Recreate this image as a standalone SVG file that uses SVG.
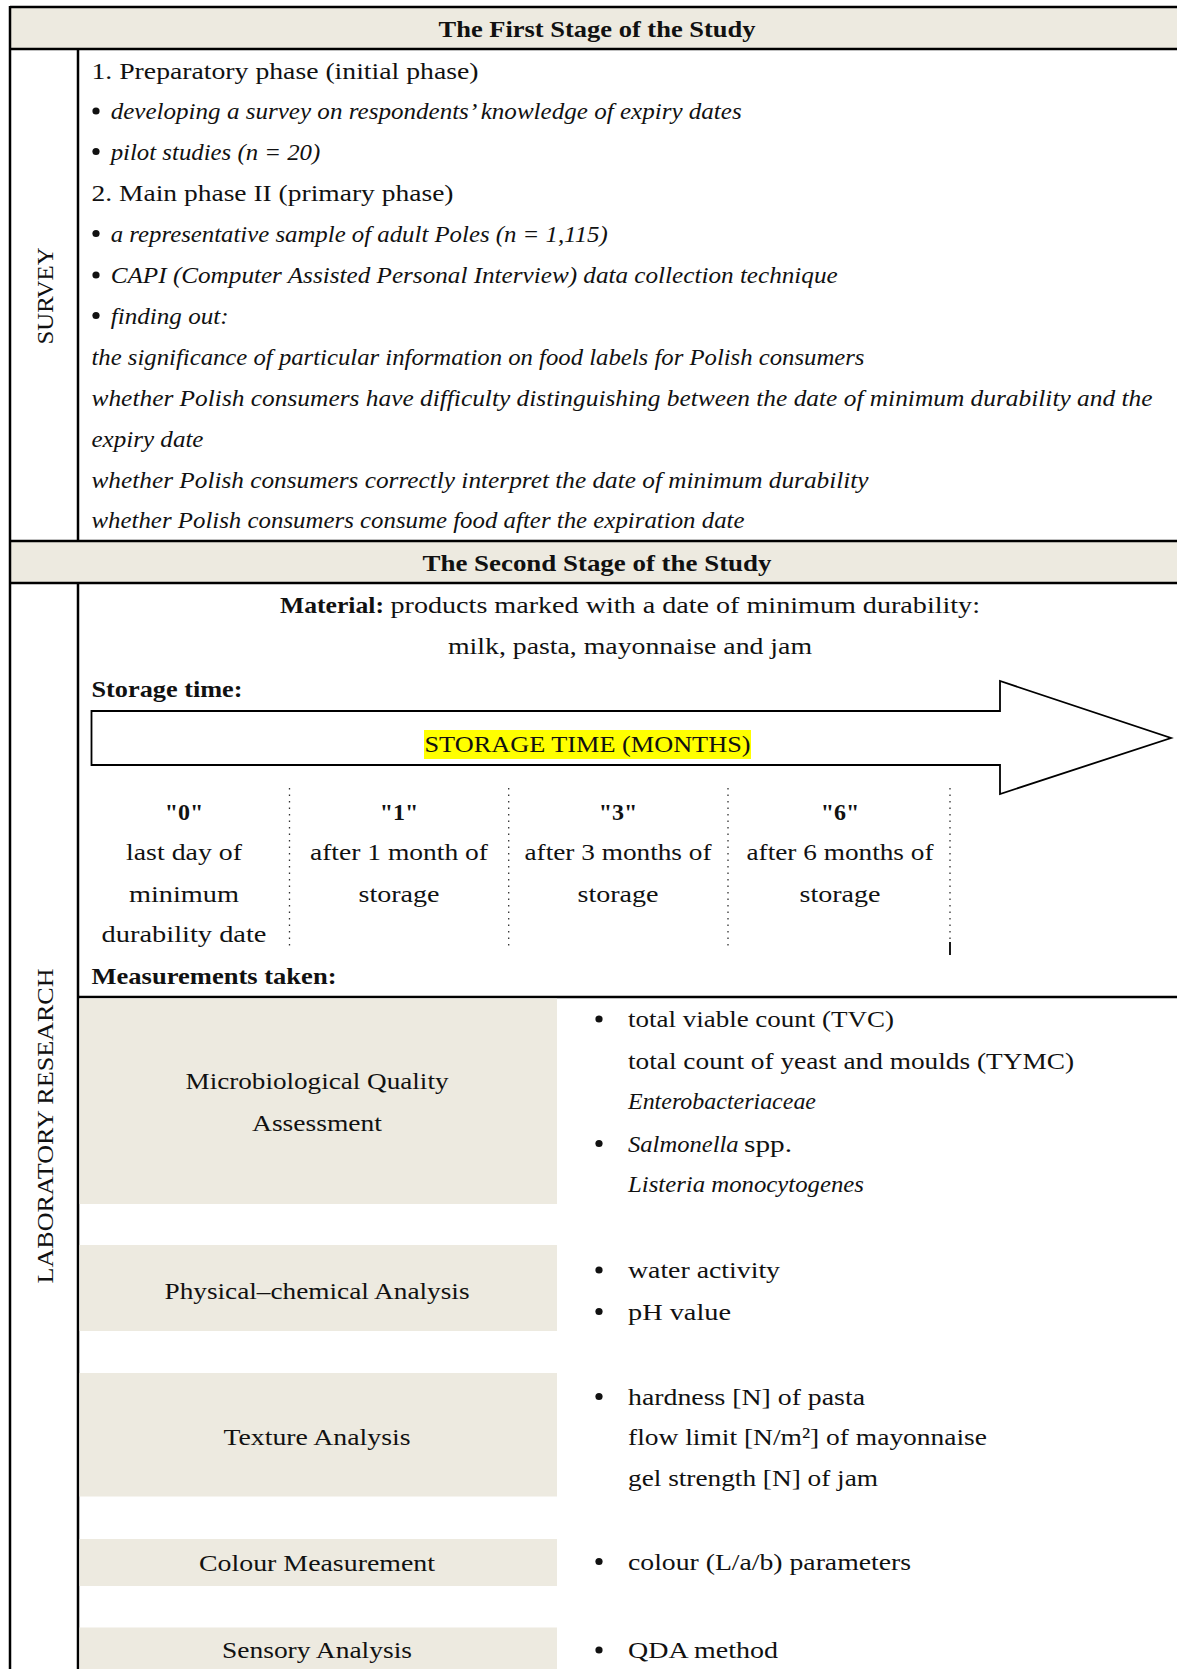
<svg xmlns="http://www.w3.org/2000/svg" width="1177" height="1669" viewBox="0 0 1177 1669">
<style>
text{font-family:"Liberation Serif","Times New Roman",serif;font-size:24px;fill:#111}
.b{font-weight:bold}
.i{font-style:italic}
.m{text-anchor:middle}
.hdr{fill:#EDEAE0}
.box{fill:#EDEAE0}
.ln{stroke:#000;stroke-width:2.5;fill:none}
.dot{stroke:#333;stroke-width:1.3;stroke-dasharray:1.5 5;fill:none}
.bul{fill:#111}
</style>
<rect width="1177" height="1669" fill="#fff"/>

<g id="table-lines">
<rect class="hdr" x="10" y="7" width="1167" height="42"/>
<rect class="hdr" x="10" y="541" width="1167" height="42"/>
<line class="ln" x1="10" y1="7" x2="1177" y2="7"/>
<line class="ln" x1="10" y1="49" x2="1177" y2="49"/>
<line class="ln" x1="10" y1="541" x2="1177" y2="541"/>
<line class="ln" x1="10" y1="583" x2="1177" y2="583"/>
<line class="ln" x1="10" y1="6" x2="10" y2="1669"/>
<line class="ln" x1="78" y1="49" x2="78" y2="541"/>
<line class="ln" x1="78" y1="583" x2="78" y2="1669"/>
<line class="ln" x1="78" y1="997" x2="1177" y2="997"/>
</g>

<g id="stage1-header">
<text class="b m" x="597" y="36.5" textLength="317" lengthAdjust="spacingAndGlyphs">The First Stage of the Study</text>
</g>

<g id="survey">
<text transform="rotate(-90 53 296)" class="m" x="53" y="296" font-size="22" textLength="97" lengthAdjust="spacingAndGlyphs">SURVEY</text>
<text x="91.5" y="78.5" textLength="387" lengthAdjust="spacingAndGlyphs">1. Preparatory phase (initial phase)</text>
<circle class="bul" cx="96" cy="111" r="3.6"/>
<text class="i" x="110.7" y="119" textLength="631" lengthAdjust="spacingAndGlyphs">developing a survey on respondents’ knowledge of expiry dates</text>
<circle class="bul" cx="96" cy="151.5" r="3.6"/>
<text class="i" x="110.7" y="159.5" textLength="209.6" lengthAdjust="spacingAndGlyphs">pilot studies (n = 20)</text>
<text x="91.5" y="201" textLength="362" lengthAdjust="spacingAndGlyphs">2. Main phase II (primary phase)</text>
<circle class="bul" cx="96" cy="233.5" r="3.6"/>
<text class="i" x="110.7" y="241.5" textLength="497" lengthAdjust="spacingAndGlyphs">a representative sample of adult Poles (n = 1,115)</text>
<circle class="bul" cx="96" cy="275" r="3.6"/>
<text class="i" x="110.7" y="283" textLength="727" lengthAdjust="spacingAndGlyphs">CAPI (Computer Assisted Personal Interview) data collection technique</text>
<circle class="bul" cx="96" cy="315.5" r="3.6"/>
<text class="i" x="110.7" y="323.5" textLength="118" lengthAdjust="spacingAndGlyphs">finding out:</text>
<text class="i" x="91.5" y="365" textLength="773" lengthAdjust="spacingAndGlyphs">the significance of particular information on food labels for Polish consumers</text>
<text class="i" x="91.5" y="405.5" textLength="1061" lengthAdjust="spacingAndGlyphs">whether Polish consumers have difficulty distinguishing between the date of minimum durability and the</text>
<text class="i" x="91.5" y="447" textLength="112" lengthAdjust="spacingAndGlyphs">expiry date</text>
<text class="i" x="91.5" y="487.5" textLength="777" lengthAdjust="spacingAndGlyphs">whether Polish consumers correctly interpret the date of minimum durability</text>
<text class="i" x="91.5" y="528" textLength="653" lengthAdjust="spacingAndGlyphs">whether Polish consumers consume food after the expiration date</text>
</g>

<g id="stage2-header">
<text class="b m" x="597" y="570.5" textLength="349" lengthAdjust="spacingAndGlyphs">The Second Stage of the Study</text>
</g>

<g id="laboratory">
<text transform="rotate(-90 53 1126)" class="m" x="53" y="1126" font-size="22" textLength="315" lengthAdjust="spacingAndGlyphs">LABORATORY RESEARCH</text>
<text class="b" x="280" y="613" textLength="104" lengthAdjust="spacingAndGlyphs">Material:</text>
<text x="390.5" y="613" textLength="589.5" lengthAdjust="spacingAndGlyphs">products marked with a date of minimum durability:</text>
<text class="m" x="630" y="653.5" textLength="364" lengthAdjust="spacingAndGlyphs">milk, pasta, mayonnaise and jam</text>
<text class="b" x="91.5" y="697" textLength="151" lengthAdjust="spacingAndGlyphs">Storage time:</text>
</g>

<g id="storage-arrow">
<polygon points="91.5,711 1000,711 1000,681 1171,738 1000,794 1000,765 91.5,765" fill="#fff" stroke="#000" stroke-width="1.8" stroke-linejoin="miter"/>
<rect x="424" y="730" width="327" height="29" fill="#FFFF00"/>
<text class="m" x="587.5" y="752" textLength="326" lengthAdjust="spacingAndGlyphs">STORAGE TIME (MONTHS)</text>
</g>

<g id="time-points">
<line class="dot" x1="289.5" y1="788" x2="289.5" y2="947"/>
<line class="dot" x1="508.7" y1="788" x2="508.7" y2="947"/>
<line class="dot" x1="728" y1="788" x2="728" y2="947"/>
<line class="dot" x1="950" y1="788" x2="950" y2="940"/>
<line x1="950" y1="942" x2="950" y2="955" stroke="#000" stroke-width="1.8"/>
<text class="b m" x="184" y="819.5">"0"</text>
<text class="m" x="184" y="860" textLength="116" lengthAdjust="spacingAndGlyphs">last day of</text>
<text class="m" x="184" y="901.5" textLength="110" lengthAdjust="spacingAndGlyphs">minimum</text>
<text class="m" x="184" y="942" textLength="165" lengthAdjust="spacingAndGlyphs">durability date</text>
<text class="b m" x="399" y="819.5">"1"</text>
<text class="m" x="399" y="860" textLength="178" lengthAdjust="spacingAndGlyphs">after 1 month of</text>
<text class="m" x="399" y="901.5" textLength="81" lengthAdjust="spacingAndGlyphs">storage</text>
<text class="b m" x="618" y="819.5">"3"</text>
<text class="m" x="618" y="860" textLength="187" lengthAdjust="spacingAndGlyphs">after 3 months of</text>
<text class="m" x="618" y="901.5" textLength="81" lengthAdjust="spacingAndGlyphs">storage</text>
<text class="b m" x="840" y="819.5">"6"</text>
<text class="m" x="840" y="860" textLength="187" lengthAdjust="spacingAndGlyphs">after 6 months of</text>
<text class="m" x="840" y="901.5" textLength="81" lengthAdjust="spacingAndGlyphs">storage</text>
<text class="b" x="91.5" y="983.5" textLength="245" lengthAdjust="spacingAndGlyphs">Measurements taken:</text>
</g>

<g id="microbiological">
<rect class="box" x="79.5" y="998.5" width="477.5" height="205.5"/>
<text class="m" x="317" y="1088.5" textLength="263" lengthAdjust="spacingAndGlyphs">Microbiological Quality</text>
<text class="m" x="317" y="1130.5" textLength="130" lengthAdjust="spacingAndGlyphs">Assessment</text>
<circle class="bul" cx="599" cy="1019" r="3.6"/>
<text x="628" y="1027" textLength="266" lengthAdjust="spacingAndGlyphs">total viable count (TVC)</text>
<text x="628" y="1068.5" textLength="446" lengthAdjust="spacingAndGlyphs">total count of yeast and moulds (TYMC)</text>
<text class="i" x="628" y="1109" textLength="188" lengthAdjust="spacingAndGlyphs">Enterobacteriaceae</text>
<circle class="bul" cx="599" cy="1143.5" r="3.6"/>
<text class="i" x="628" y="1151.5" textLength="110.6" lengthAdjust="spacingAndGlyphs">Salmonella</text>
<text x="744" y="1151.5" textLength="48" lengthAdjust="spacingAndGlyphs">spp.</text>
<text class="i" x="628" y="1192" textLength="236" lengthAdjust="spacingAndGlyphs">Listeria monocytogenes</text>
</g>

<g id="physical-chemical">
<rect class="box" x="79.5" y="1245" width="477.5" height="86"/>
<text class="m" x="317" y="1298.5" textLength="305" lengthAdjust="spacingAndGlyphs">Physical–chemical Analysis</text>
<circle class="bul" cx="599" cy="1270" r="3.6"/>
<text x="628" y="1278" textLength="152" lengthAdjust="spacingAndGlyphs">water activity</text>
<circle class="bul" cx="599" cy="1311.5" r="3.6"/>
<text x="628" y="1319.5" textLength="103" lengthAdjust="spacingAndGlyphs">pH value</text>
</g>

<g id="texture">
<rect class="box" x="79.5" y="1373" width="477.5" height="123.5"/>
<text class="m" x="317" y="1444.5" textLength="187" lengthAdjust="spacingAndGlyphs">Texture Analysis</text>
<circle class="bul" cx="599" cy="1396.5" r="3.6"/>
<text x="628" y="1404.5" textLength="237" lengthAdjust="spacingAndGlyphs">hardness [N] of pasta</text>
<text x="628" y="1445" textLength="359" lengthAdjust="spacingAndGlyphs">flow limit [N/m²] of mayonnaise</text>
<text x="628" y="1485.5" textLength="250" lengthAdjust="spacingAndGlyphs">gel strength [N] of jam</text>
</g>

<g id="colour">
<rect class="box" x="79.5" y="1539" width="477.5" height="47"/>
<text class="m" x="317" y="1570.5" textLength="236" lengthAdjust="spacingAndGlyphs">Colour Measurement</text>
<circle class="bul" cx="599" cy="1561.5" r="3.6"/>
<text x="628" y="1569.5" textLength="283" lengthAdjust="spacingAndGlyphs">colour (L/a/b) parameters</text>
</g>

<g id="sensory">
<rect class="box" x="79.5" y="1627.5" width="477.5" height="41.5"/>
<text class="m" x="317" y="1658" textLength="190" lengthAdjust="spacingAndGlyphs">Sensory Analysis</text>
<circle class="bul" cx="599" cy="1650" r="3.6"/>
<text x="628" y="1658" textLength="150" lengthAdjust="spacingAndGlyphs">QDA method</text>
</g>
</svg>
